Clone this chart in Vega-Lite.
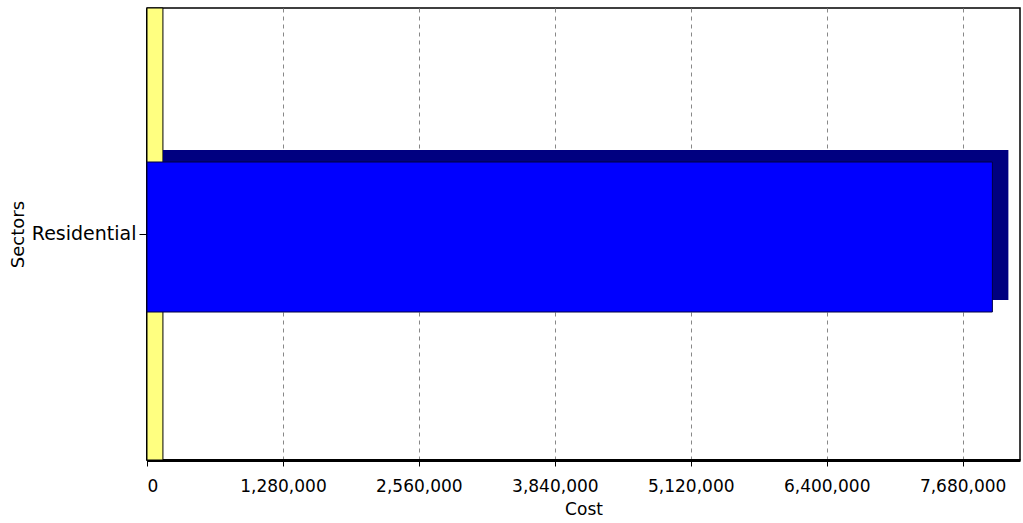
{
  "$schema": "https://vega.github.io/schema/vega-lite/v6.json",
  "autosize": {"type": "none"},
  "padding": {"left": 147, "top": 8, "right": 3, "bottom": 63},
  "width": 873,
  "height": 452,
  "background": "white",
  "data": {"values": [{"sector": "Residential", "cost": 7960000}]},
  "config": {
    "font": "DejaVu Sans",
    "view": {"stroke": "black", "strokeWidth": 1.5},
    "axis": {"labelFont": "DejaVu Sans", "titleFont": "DejaVu Sans", "labelFontSize": 17, "titleFontSize": 17, "titleFontWeight": "normal", "labelColor": "black", "titleColor": "black"}
  },
  "layer": [
    {
      "mark": {"type": "rect", "fill": "#ffff80", "stroke": "black", "strokeWidth": 1},
      "encoding": {
        "x": {"datum": 0, "type": "quantitative"},
        "x2": {"datum": 150000}
      }
    },
    {
      "mark": {"type": "bar", "size": 150, "color": "#000080", "xOffset": 16, "yOffset": -9},
      "encoding": {
        "y": {"field": "sector", "type": "nominal"},
        "x": {"field": "cost", "type": "quantitative"}
      }
    },
    {
      "mark": {"type": "bar", "size": 150, "color": "#0000ff", "stroke": "#000040", "strokeWidth": 1, "yOffset": 3},
      "encoding": {
        "y": {
          "field": "sector", "type": "nominal",
          "axis": {"title": "Sectors", "titlePadding": 4, "labelFontSize": 19, "titleFontSize": 18, "domainColor": "black", "domainWidth": 3, "tickColor": "black", "tickSize": 8, "labelPadding": 3}
        },
        "x": {
          "field": "cost", "type": "quantitative",
          "scale": {"domain": [0, 8220000], "nice": false, "zero": true},
          "axis": {
            "title": "Cost",
            "values": [0, 1280000, 2560000, 3840000, 5120000, 6400000, 7680000],
            "format": ",d",
            "domainColor": "black", "domainWidth": 3,
            "tickColor": "black", "tickSize": 6,
            "labelPadding": 12,
            "titlePadding": 7,
            "grid": true, "gridColor": "#888888", "gridDash": [4, 4], "gridWidth": 1
          }
        }
      }
    }
  ]
}
